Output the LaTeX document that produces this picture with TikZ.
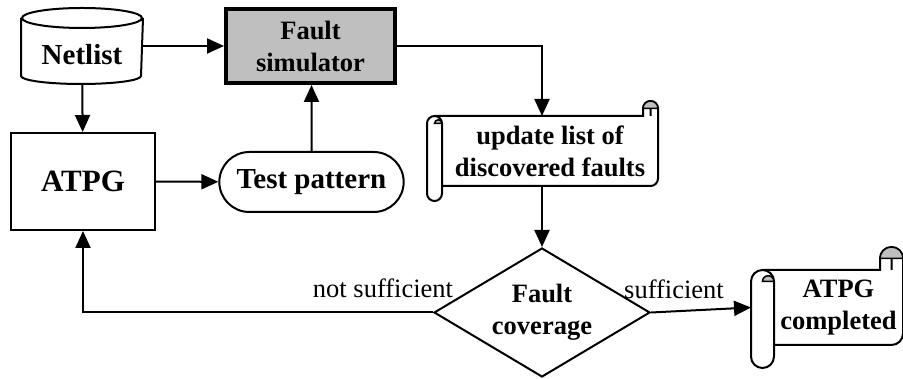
\documentclass[tikz,border=0pt]{standalone}
\usepackage{fontspec}
\setmainfont{Liberation Serif}
\usetikzlibrary{arrows.meta,shapes.geometric,shapes.misc,calc}

% rolled paper around a node: #1 node, #2 roll width (pt)
\newcommand{\paperroll}[2]{%
  \draw [line width=2pt] let \p1=(#1.north west), \p2=(#1.south east) in
    (\x1-#2/2,\y1) -- (\x2-#2,\y1) -- (\x2-#2,\y1+#2/2)
      arc [start angle=180, end angle=0, radius=#2pt/2]
      -- (\x2,\y2+#2/2) arc [start angle=0, end angle=-90, radius=#2pt/2]
      -- (\x1,\y2)
    (\x1-#2,\y1-#2/2) -- (\x1-#2,\y2-#2/2)
      arc [start angle=180, end angle=360, radius=#2pt/2]
      -- (\x1,\y1-#2/2) arc [start angle=0, end angle=180, radius=#2pt/2]
    (\x2-#2/2,\y1) -- (\x2-#2/2,\y1+#2/2);
  \filldraw [fill=black!25, line width=1.5pt] let \p1=(#1.north west), \p2=(#1.south east) in
    (\x1-#2/2,\y1-#2/2) arc [start angle=180, end angle=0, radius=#2pt/4] -- cycle
    (\x2-#2,\y1+#2/2) arc [start angle=180, end angle=0, radius=#2pt/2] -- cycle;
}

\begin{document}
\begin{tikzpicture}[x=1pt,y=1pt]
\useasboundingbox (0,0) rectangle (903,379);

\begin{scope}[every node/.style={line width=2pt,align=center,
  font=\bfseries\fontsize{26.5}{32}\selectfont}]
	\node (netlist) [inner sep=0pt,text height=38pt,text depth=0pt,
		minimum width=120pt,minimum height=74pt,font=\bfseries\fontsize{29}{32}\selectfont] at (82,333) {Netlist};
	\node (fault) [draw,line width=4pt,fill=black!25,minimum width=169pt,minimum height=74pt] at (310.5,333) {Fault\\simulator};
	\node (atpg) [draw,minimum width=144pt,minimum height=97pt,font=\bfseries\fontsize{31}{34}\selectfont] at (83,197.5) {ATPG};
	\node (test) [draw,rounded rectangle,minimum width=191pt,minimum height=60pt,font=\bfseries\fontsize{29}{32}\selectfont] at (311.5,197) {Test pattern};
	\node (update) [minimum width=214pt,minimum height=68pt] at (550,228) {update list of\\discovered faults};
	\node (cov) [draw,diamond,aspect=1.67,inner sep=0pt,minimum width=216pt,minimum height=129pt] at (542,66.5) {Fault\\coverage};
	\node (done) [minimum width=127pt,minimum height=73pt] at (838.5,71.5) {ATPG\\completed};
	\node (nosuf) [font=\fontsize{26.5}{32}\selectfont] at (383,91) {not sufficient};
	\node (suf) [font=\fontsize{26.5}{32}\selectfont] at (674,90) {sufficient};
\end{scope}

% the netlist drum
\draw [line width=2pt] let \p1=(netlist.north west), \p2=(netlist.south east) in
	(\x1,\y1-10) -- (\x1,\y2+8) arc [start angle=180, end angle=360, x radius=60pt, y radius=8pt]
	-- (\x2,\y1-10)
	($(netlist.north)+(0,-10)$) ellipse [x radius=60pt, y radius=10pt];

\paperroll{update}{15}
\paperroll{done}{23}

\begin{scope}[>={Triangle[length=17pt,width=15pt]},
every edge/.style={draw,line width=2pt}]
	\path [->] (netlist) edge (fault);
	\path [->] (netlist) edge (atpg);
	\path [->] (atpg) edge (test);
	\path [->] (test) edge (test.north |- fault.south);
	\path [->] (cov.east) edge ([xshift=-23pt]done.west);
	\draw [->,line width=2pt] (fault.east) -| (cov.north |- update.north);
	\draw [->,line width=2pt] (update.south -| cov.north) -- (cov.north);
	\draw [->,line width=2pt] (cov.west) -| (atpg.south);
\end{scope}

\end{tikzpicture}
\end{document}
